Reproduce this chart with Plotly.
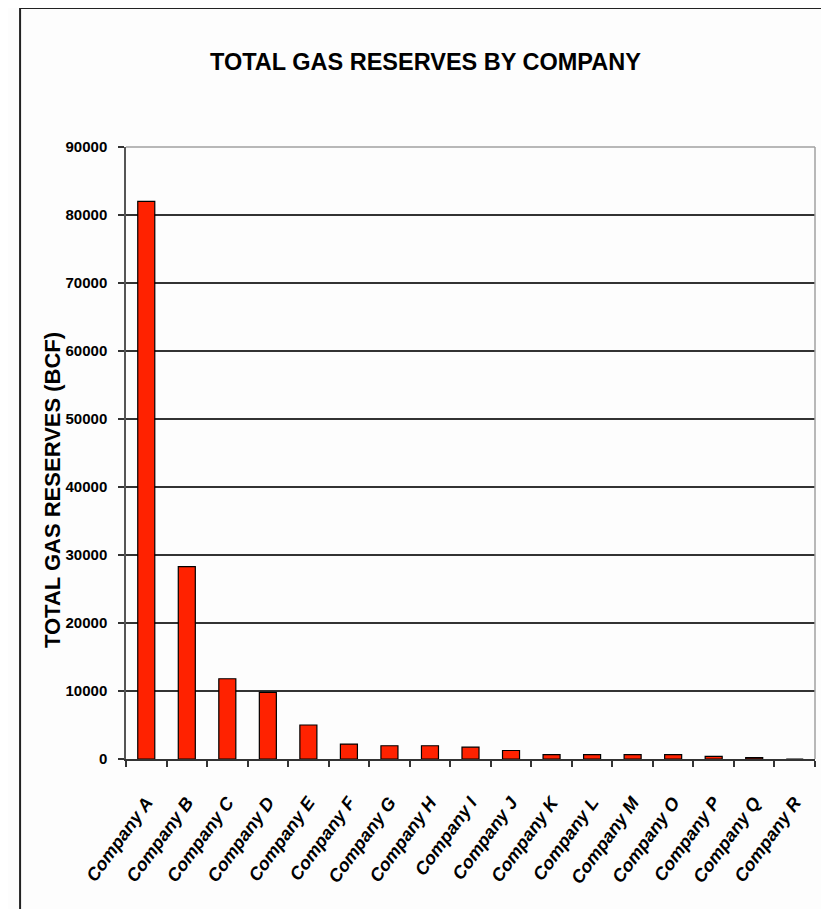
import plotly.graph_objects as go

companies = ["Company A", "Company B", "Company C", "Company D", "Company E",
             "Company F", "Company G", "Company H", "Company I", "Company J",
             "Company K", "Company L", "Company M", "Company O", "Company P",
             "Company Q", "Company R"]
reserves_bcf = [82000, 28300, 11800, 9800, 5000, 2200, 1950, 1950, 1750, 1250,
                650, 650, 650, 650, 400, 200, 0]
y_ticks = [0, 10000, 20000, 30000, 40000, 50000, 60000, 70000, 80000, 90000]

title_text = "TOTAL GAS RESERVES BY COMPANY"
y_title = "TOTAL GAS RESERVES (BCF)"

# page body offsets the figure by 8px; work in screen pixels and compensate
OFF = 8
W, H = 829 - OFF, 909 - OFF
L, T = 126 - OFF, 147 - OFF
R = W - (815.5 - OFF)
B = H - (759 - OFF)
pw, ph = W - L - R, H - T - B


def px(x):
    return (x - OFF - L) / pw


def py(y):
    return (H - B - (y - OFF)) / ph


ARIAL = "Liberation Sans, Arial"

fig = go.Figure(go.Bar(
    x=companies, y=reserves_bcf,
    marker=dict(color="#FF2200", line=dict(color="#000000", width=1.2)),
    width=0.42,
))

fig.update_layout(
    width=W, height=H,
    margin=dict(l=L, r=R, t=T, b=B, pad=0),
    paper_bgcolor="#FDFDFD", plot_bgcolor="#FDFDFD",
    showlegend=False,
    annotations=[
        dict(text=title_text, x=px(426), y=py(62), xref="paper", yref="paper",
             showarrow=False, xanchor="center", yanchor="middle",
             font=dict(family=ARIAL, size=23.5, color="#000", weight="bold")),
        dict(text=y_title, x=px(52), y=py(490), xref="paper", yref="paper",
             showarrow=False, xanchor="center", yanchor="middle", textangle=-90,
             font=dict(family=ARIAL, size=22, color="#000", weight="bold")),
    ],
    shapes=[
        # outer frame
        dict(type="rect", xref="paper", yref="paper",
             x0=px(20), x1=px(850), y0=py(930), y1=py(8),
             line=dict(color="#222", width=2), layer="below"),
        # grey plot border top and right
        dict(type="line", xref="paper", yref="paper", x0=0, x1=1, y0=1, y1=1,
             line=dict(color="#A0A0A0", width=1.5), layer="above"),
        dict(type="line", xref="paper", yref="paper", x0=1, x1=1, y0=0, y1=1,
             line=dict(color="#A0A0A0", width=1.5), layer="above"),
    ],
)

fig.update_yaxes(
    range=[0, 90000], tickvals=y_ticks, ticktext=[str(v) for v in y_ticks],
    showgrid=True, gridcolor="#333", gridwidth=1.5,
    showline=True, linecolor="#555", linewidth=1.5,
    ticks="outside", ticklen=6, tickcolor="#333", tickwidth=1.5,
    ticklabelstandoff=8,
    tickfont=dict(family=ARIAL, size=15, color="#000", weight="bold"),
    zeroline=False,
)
fig.update_xaxes(
    range=[-0.5, len(companies) - 0.5],
    showline=True, linecolor="#333", linewidth=1.5,
    ticks="outside", tickson="boundaries", ticklen=6, tickcolor="#333", tickwidth=1.5,
    tickangle=-54, ticklabelstandoff=24,
    tickfont=dict(family=ARIAL, size=18, color="#000", weight="bold", style="italic"),
    showgrid=False,
)

fig.write_html("out.html")
